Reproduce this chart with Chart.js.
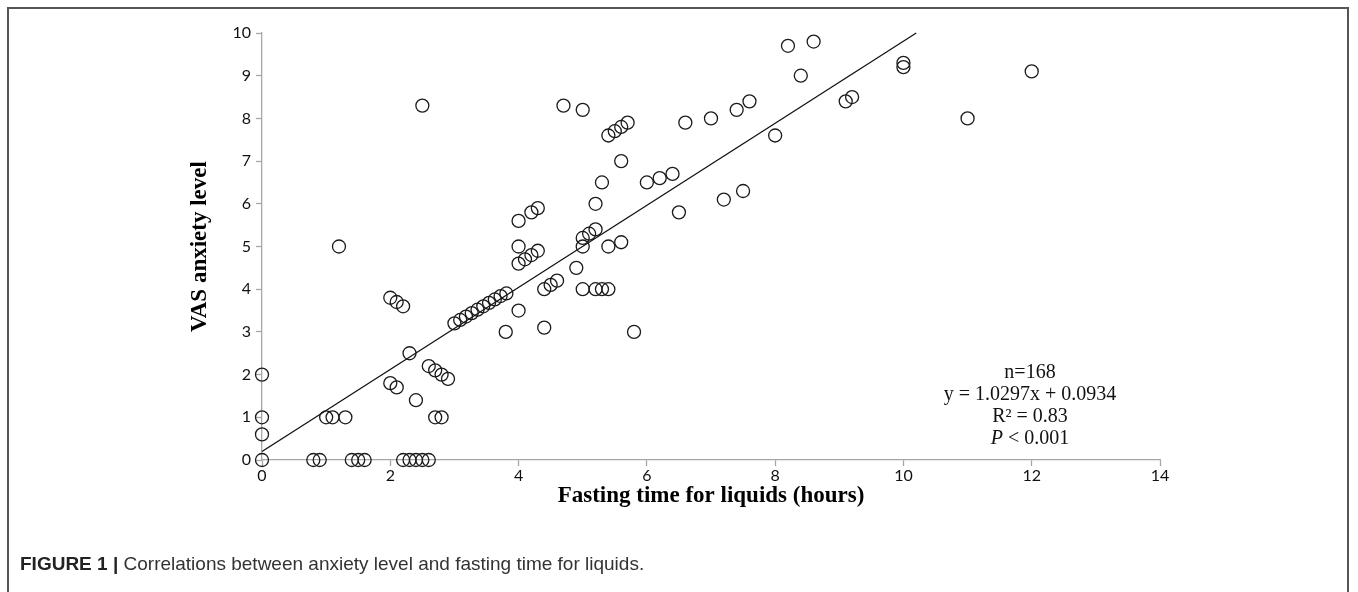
<!DOCTYPE html>
<html>
<head>
<meta charset="utf-8">
<script src="https://cdn.jsdelivr.net/npm/chart.js@4.4.1/dist/chart.umd.min.js"></script>
<style>
  html, body { margin: 0; padding: 0; background: #fff; }
  #wrap { position: relative; width: 1358px; height: 592px; overflow: hidden; }
  #frame { position: absolute; left: 7px; top: 7px; width: 1338px; height: 640px; border: 2px solid #555; }
  #fig { position: absolute; left: 0; top: 0; }
  #stats { position: absolute; left: 930px; top: 360px; width: 200px; text-align: center;
           font-family: "Liberation Serif", serif; font-size: 20px; line-height: 22px; color: #111; }
  #caption { position: absolute; left: 20px; top: 553px; font-family: "Liberation Sans", Arial, sans-serif;
             font-size: 19px; color: #333; white-space: nowrap; }
  #caption b { color: #222; }
</style>
</head>
<body>
<div id="wrap">
  <div id="frame"></div>
  <canvas id="fig" width="1358" height="592"></canvas>
  <div id="stats"></div>
  <div id="caption"><b>FIGURE 1 |</b> Correlations between anxiety level and fasting time for liquids.</div>
</div>
<script>
// fasting time for liquids (hours) vs VAS anxiety level
const fastX = [
  0, 0, 0, 0,
  0.8, 0.9,
  1.0, 1.1, 1.3, 1.2,
  1.4, 1.5, 1.6,
  2.0, 2.1, 2.2, 2.0, 2.1,
  2.2, 2.3, 2.4, 2.5, 2.6,
  2.3, 2.4, 2.5,
  2.6, 2.7, 2.8, 2.9, 2.7, 2.8,
  3.0, 3.09, 3.18, 3.27, 3.36, 3.45, 3.54, 3.63, 3.72, 3.81,
  3.8, 4.0,
  4.0, 4.0, 4.0, 4.1, 4.2, 4.3, 4.2, 4.3,
  4.4, 4.4, 4.5, 4.6,
  4.7, 4.9, 5.0,
  5.0, 5.0, 5.1, 5.2,
  5.0, 5.2, 5.2, 5.3, 5.4,
  5.3, 5.4,
  5.4, 5.5, 5.6, 5.7,
  5.6, 5.6, 5.8,
  6.0, 6.2, 6.4, 6.5, 6.6,
  7.0, 7.2, 7.4, 7.5, 7.6,
  8.0, 8.2, 8.4, 8.6,
  9.1, 9.2, 10, 10, 11, 12
];
const vasY = [
  0, 0.6, 1, 2,
  0, 0,
  1, 1, 1, 5,
  0, 0, 0,
  3.8, 3.7, 3.6, 1.8, 1.7,
  0, 0, 0, 0, 0,
  2.5, 1.4, 8.3,
  2.2, 2.1, 2.0, 1.9, 1, 1,
  3.2, 3.28, 3.36, 3.44, 3.52, 3.6, 3.68, 3.76, 3.84, 3.9,
  3.0, 3.5,
  5.6, 5.0, 4.6, 4.7, 4.8, 4.9, 5.8, 5.9,
  3.1, 4.0, 4.1, 4.2,
  8.3, 4.5, 8.2,
  5.2, 5.0, 5.3, 5.4,
  4.0, 6.0, 4.0, 4.0, 4.0,
  6.5, 5.0,
  7.6, 7.7, 7.8, 7.9,
  7.0, 5.1, 3.0,
  6.5, 6.6, 6.7, 5.8, 7.9,
  8.0, 6.1, 8.2, 6.3, 8.4,
  7.6, 9.7, 9.0, 9.8,
  8.4, 8.5, 9.3, 9.2, 8.0, 9.1
];

// fitted line as drawn (end points)
const trendX = [0, 10.2];
const trendY = [0.2, 10];

const xTicks = [0, 2, 4, 6, 8, 10, 12, 14];
const yTicks = [0, 1, 2, 3, 4, 5, 6, 7, 8, 9, 10];

const statLines = ['n=168', 'y = 1.0297x + 0.0934', 'R² = 0.83', '<i>P</i> &lt; 0.001'];

document.getElementById('stats').innerHTML = statLines.map(s => `<div>${s}</div>`).join('');

const axisGrey = '#a6a6a6';
const tickFont = { family: 'Lato', size: 16 };
const titleFont = { family: 'Liberation Serif', size: 23, weight: 'bold' };

new Chart(document.getElementById('fig'), {
  type: 'scatter',
  data: {
    datasets: [
      {
        label: 'VAS',
        data: fastX.map((x, i) => ({ x, y: vasY[i] })),
        pointStyle: 'circle',
        pointRadius: 6.5,
        pointBorderWidth: 1.3,
        pointBorderColor: '#1a1a1a',
        pointBackgroundColor: 'rgba(0,0,0,0)',
        clip: false,
      },
      {
        label: 'fit',
        type: 'line',
        data: trendX.map((x, i) => ({ x, y: trendY[i] })),
        borderColor: '#111',
        borderWidth: 1.3,
        pointRadius: 0,
        fill: false,
        clip: false,
      }
    ]
  },
  options: {
    responsive: false,
    animation: false,
    layout: { padding: { left: 186, top: 33, right: 198, bottom: 82 } },
    plugins: { legend: { display: false }, tooltip: { enabled: false } },
    scales: {
      x: {
        type: 'linear',
        min: 0,
        max: 14,
        afterBuildTicks: s => { s.ticks = xTicks.map(v => ({ value: v })); },
        afterFit: s => { s.height = 50; },
        grid: { drawOnChartArea: false, tickLength: 6, color: axisGrey, tickWidth: 1.3 },
        border: { color: axisGrey, width: 1.3 },
        ticks: { font: tickFont, color: '#111', padding: 0, maxRotation: 0 },
        title: { display: true, text: 'Fasting time for liquids (hours)', font: titleFont, color: '#000', padding: 0 }
      },
      y: {
        type: 'linear',
        min: 0,
        max: 10,
        afterBuildTicks: s => { s.ticks = yTicks.map(v => ({ value: v })); },
        afterFit: s => { s.width = 76; },
        grid: { drawOnChartArea: false, tickLength: 6, color: axisGrey, tickWidth: 1.3 },
        border: { color: axisGrey, width: 1.3 },
        ticks: { font: tickFont, color: '#111', padding: 5 },
        title: { display: true, text: 'VAS anxiety level', font: titleFont, color: '#000', padding: 0 }
      }
    }
  }
});
</script>
</body>
</html>
